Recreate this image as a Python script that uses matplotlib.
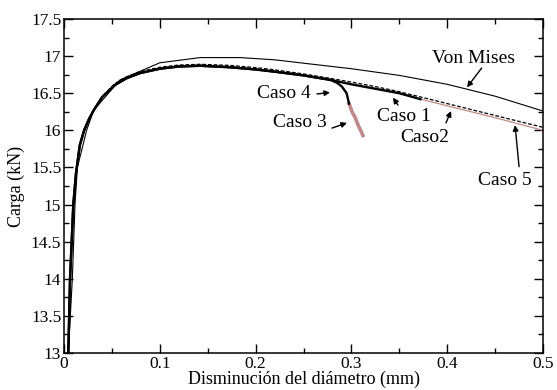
import matplotlib
matplotlib.use("Agg")
import matplotlib.pyplot as plt
from matplotlib.ticker import MultipleLocator, FormatStrFormatter

plt.rcParams['font.family'] = ['Liberation Serif', 'DejaVu Serif']

# Datos: disminucion del diametro (mm) vs carga (kN)
x_vonmises = [0.0045, 0.0087, 0.0115, 0.014, 0.0236, 0.031, 0.0585, 0.10,
              0.142, 0.184, 0.22, 0.253, 0.30, 0.35, 0.40, 0.45, 0.50]
y_vonmises = [13.0, 14.0, 15.0, 15.5, 16.0, 16.27, 16.68, 16.91,
              16.98, 16.98, 16.95, 16.90, 16.83, 16.74, 16.62, 16.46, 16.26]

x_caso1 = [0.0045, 0.0063, 0.0097, 0.0125, 0.0165, 0.021, 0.026, 0.031, 0.04,
           0.053, 0.065, 0.079, 0.10, 0.12, 0.142, 0.173, 0.20, 0.22, 0.25,
           0.278, 0.30, 0.325, 0.35, 0.372]
y_caso1 = [13.0, 14.0, 15.0, 15.42, 15.8, 16.0, 16.15, 16.27, 16.45,
           16.61, 16.70, 16.77, 16.83, 16.86, 16.87, 16.85, 16.82, 16.79, 16.74,
           16.68, 16.62, 16.56, 16.50, 16.42]

x_caso2 = x_caso1 + [0.40, 0.45, 0.50]
y_caso2 = [13.0, 14.0, 15.0, 15.42, 15.8, 16.0, 16.16, 16.28, 16.46,
           16.63, 16.72, 16.79, 16.85, 16.88, 16.89, 16.875, 16.845, 16.815, 16.76,
           16.70, 16.65, 16.59, 16.52, 16.45, 16.36, 16.20, 16.04]

x_caso5 = x_caso1 + [0.40, 0.45, 0.50]
y_caso5 = y_caso1 + [16.33, 16.17, 16.00]

x_caso4 = x_caso1[:20] + [0.285, 0.290, 0.295, 0.2975]
y_caso4 = y_caso1[:20] + [16.64, 16.59, 16.50, 16.36]

x_caso3 = [0.2975, 0.301, 0.304, 0.307, 0.310, 0.312]
y_caso3 = [16.36, 16.24, 16.17, 16.07, 15.99, 15.93]

# etiquetas: (texto, posicion texto, cola flecha, punta flecha)
etiquetas = [
    ("Von Mises", (0.427, 16.97), (0.436, 16.84), (0.4207, 16.58)),
    ("Caso 4", (0.2296, 16.50), (0.264, 16.49), (0.2777, 16.51)),
    ("Caso 3", (0.2463, 16.10), (0.2797, 16.03), (0.2954, 16.10)),
    ("Caso 1", (0.355, 16.18), (0.3486, 16.34), (0.3434, 16.44)),
    ("Caso2", (0.3768, 15.91), (0.3987, 16.10), (0.404, 16.26)),
    ("Caso 5", (0.4603, 15.33), (0.475, 15.51), (0.4708, 16.07)),
]

rosa = '#bf8a8a'

fig = plt.figure(figsize=(5.57, 3.90), dpi=100)
ax = fig.add_axes([0.1149, 0.0949, 0.86, 0.8564])

ax.plot(x_vonmises, y_vonmises, color='black', lw=0.8)
ax.plot(x_caso5, y_caso5, color=rosa, lw=0.9)
ax.plot(x_caso2, y_caso2, color='black', lw=0.9, dashes=(3, 1.5))
ax.plot(x_caso3, y_caso3, color=rosa, lw=2.6)
ax.plot(x_caso4, y_caso4, color='black', lw=1.7)
ax.plot(x_caso1, y_caso1, color='black', lw=1.7)

for texto, pos, cola, punta in etiquetas:
    ax.text(pos[0], pos[1], texto, fontsize=14, ha='center', va='center')
    ax.annotate('', xy=punta, xytext=cola,
                arrowprops=dict(arrowstyle='-|>', color='black', lw=1.0,
                                mutation_scale=8, shrinkA=0, shrinkB=0))

ax.set_xlim(0, 0.5)
ax.set_ylim(13, 17.5)
ax.xaxis.set_major_locator(MultipleLocator(0.1))
ax.xaxis.set_minor_locator(MultipleLocator(0.05))
ax.yaxis.set_major_locator(MultipleLocator(0.5))
ax.yaxis.set_minor_locator(MultipleLocator(0.25))
ax.xaxis.set_major_formatter(FormatStrFormatter('%g'))
ax.yaxis.set_major_formatter(FormatStrFormatter('%g'))
ax.tick_params(which='both', direction='in', top=True, right=True, labelsize=12.5)
ax.tick_params(which='major', length=6.5, width=1.0, pad=2)
ax.tick_params(which='minor', length=3.6, width=1.0)
for s in ax.spines.values():
    s.set_linewidth(1.1)

ax.set_xlabel('Disminución del diámetro (mm)', fontsize=13, labelpad=-1)
ax.set_ylabel('Carga (kN)', fontsize=13, labelpad=4)

fig.savefig('out.png', dpi=100)
